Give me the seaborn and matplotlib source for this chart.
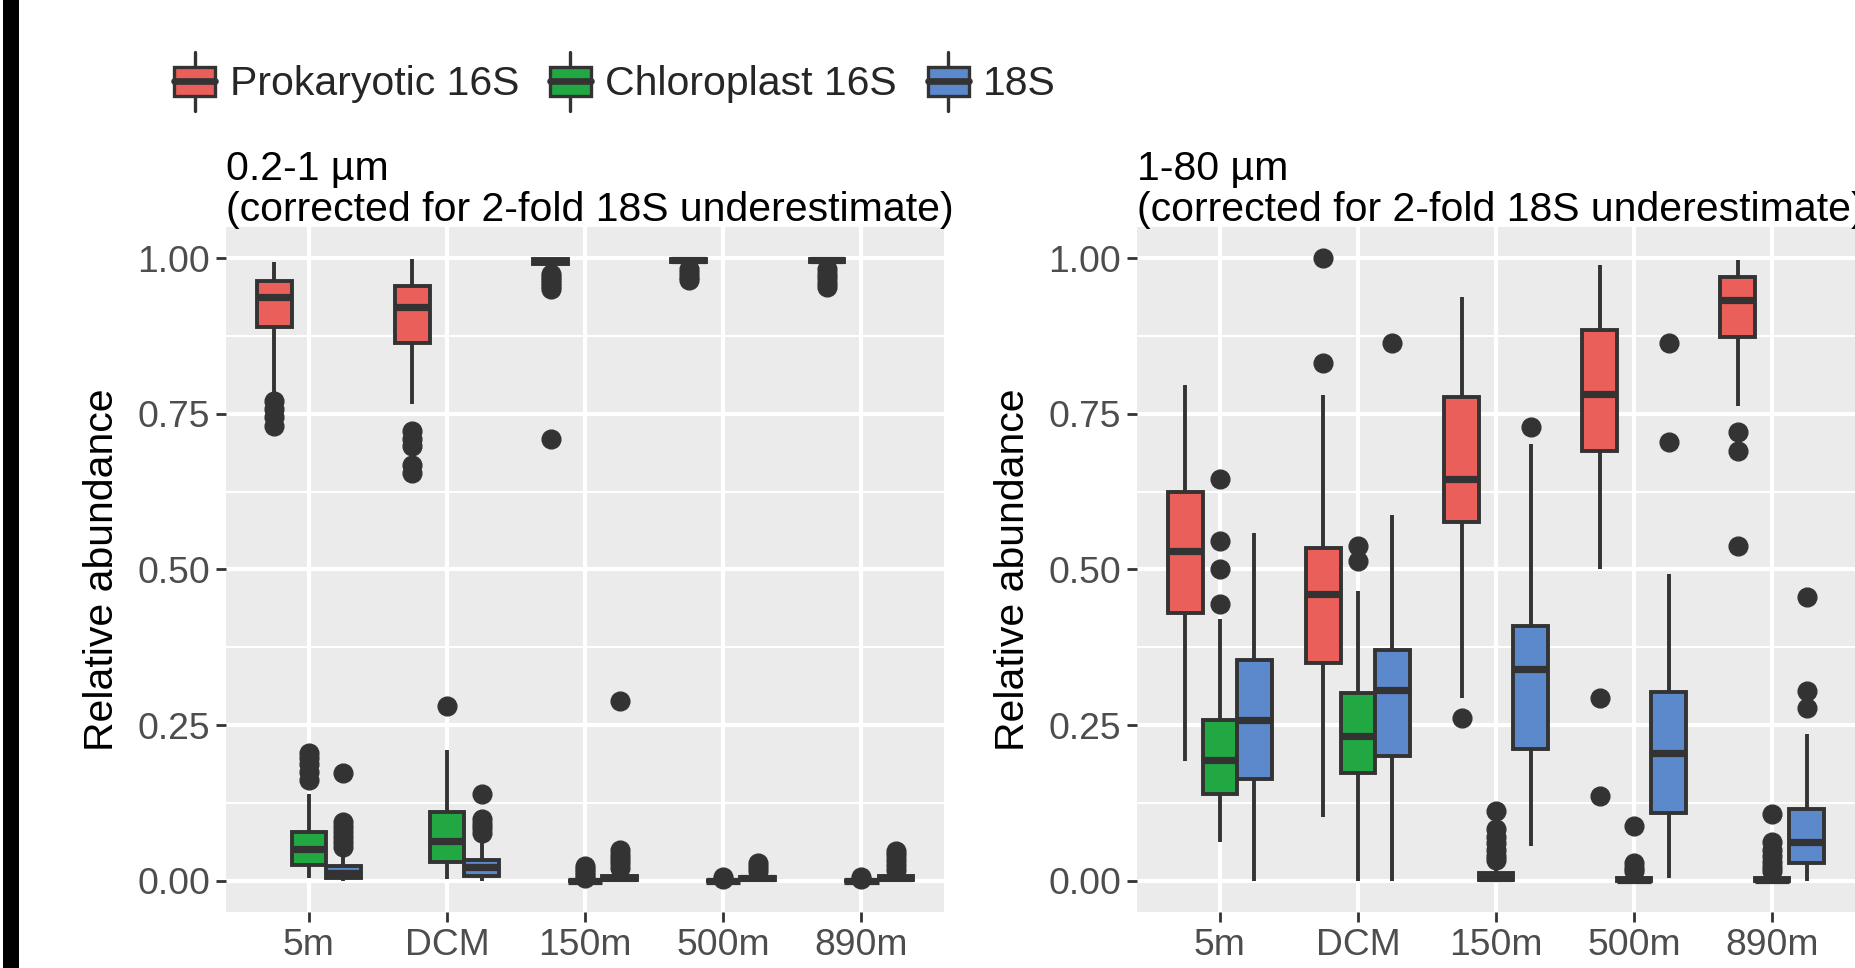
import matplotlib
matplotlib.use("Agg")
import pandas as pd
import matplotlib.pyplot as plt
import seaborn as sns
from matplotlib.legend_handler import HandlerBase
from matplotlib.lines import Line2D
from matplotlib.patches import Patch, Rectangle
from matplotlib.ticker import MultipleLocator

DEPTHS = ["5m", "DCM", "150m", "500m", "890m"]
MARKERS = ["Prokaryotic 16S", "Chloroplast 16S", "18S"]
COLORS = ["#EB5F5B", "#22A843", "#5C88CC"]

# box summaries, one tuple per depth:
# (lower whisker, q1, median, q3, upper whisker)
# 0.2-1 um fraction
SMALL_PROK = [(0.785, 0.889, 0.937, 0.964, 0.993), (0.766, 0.864, 0.921, 0.956, 0.998),
              (0.985, 0.990, 0.995, 0.998, 1.000), (0.988, 0.993, 0.997, 0.999, 1.000),
              (0.988, 0.993, 0.997, 0.999, 1.000)]
SMALL_PROK_OUT = [[0.770, 0.757, 0.745, 0.730], [0.722, 0.710, 0.698, 0.668, 0.655],
                  [0.975, 0.970, 0.965, 0.960, 0.955, 0.950, 0.710],
                  [0.982, 0.976, 0.970, 0.965], [0.982, 0.975, 0.968, 0.960, 0.953]]

SMALL_CHLORO = [(0.004, 0.026, 0.051, 0.078, 0.140), (0.003, 0.030, 0.064, 0.110, 0.210),
                (0.0, 0.0, 0.0, 0.0, 0.0), (0.0, 0.0, 0.0, 0.0, 0.0),
                (0.0, 0.0, 0.0, 0.0, 0.0)]
SMALL_CHLORO_OUT = [[0.162, 0.175, 0.188, 0.198, 0.206], [0.281],
                    [0.004, 0.009, 0.014, 0.019, 0.023], [0.003, 0.006], [0.003, 0.006]]

SMALL_18S = [(0.0, 0.005, 0.012, 0.024, 0.050), (0.0, 0.007, 0.022, 0.033, 0.065),
             (0.0, 0.002, 0.004, 0.007, 0.012), (0.0, 0.002, 0.004, 0.006, 0.010),
             (0.0, 0.002, 0.004, 0.007, 0.012)]
SMALL_18S_OUT = [[0.055, 0.062, 0.070, 0.078, 0.087, 0.095, 0.173],
                 [0.077, 0.085, 0.092, 0.100, 0.140],
                 [0.020, 0.028, 0.035, 0.042, 0.050, 0.289],
                 [0.016, 0.022, 0.028], [0.018, 0.026, 0.034, 0.042, 0.048]]

# 1-80 um fraction
LARGE_PROK = [(0.193, 0.430, 0.530, 0.624, 0.796), (0.102, 0.350, 0.460, 0.535, 0.780),
              (0.294, 0.576, 0.645, 0.777, 0.938), (0.500, 0.690, 0.781, 0.884, 0.989),
              (0.763, 0.874, 0.933, 0.970, 0.997)]
LARGE_PROK_OUT = [[], [0.831, 1.000], [0.262], [0.294, 0.136], [0.720, 0.691, 0.538]]

LARGE_CHLORO = [(0.062, 0.140, 0.194, 0.258, 0.420), (0.0, 0.173, 0.232, 0.301, 0.465),
                (0.0, 0.001, 0.004, 0.012, 0.025), (0.0, 0.0, 0.002, 0.005, 0.010),
                (0.0, 0.0, 0.001, 0.004, 0.008)]
LARGE_CHLORO_OUT = [[0.445, 0.500, 0.545, 0.645], [0.513, 0.538],
                    [0.033, 0.040, 0.050, 0.060, 0.070, 0.083, 0.112],
                    [0.015, 0.020, 0.028, 0.088],
                    [0.015, 0.022, 0.030, 0.040, 0.050, 0.062, 0.107]]

LARGE_18S = [(0.0, 0.164, 0.259, 0.355, 0.559), (0.0, 0.200, 0.306, 0.371, 0.587),
             (0.056, 0.211, 0.340, 0.409, 0.702), (0.005, 0.109, 0.205, 0.304, 0.492),
             (0.0, 0.029, 0.062, 0.115, 0.235)]
LARGE_18S_OUT = [[], [0.863], [0.729], [0.704, 0.863], [0.278, 0.305, 0.455]]

TITLES = ["0.2-1 \u00b5m\n(corrected for 2-fold 18S underestimate)",
          "1-80 \u00b5m\n(corrected for 2-fold 18S underestimate)"]

DARK = "#333333"


def expand(stats, outliers, reps=40):
    # sample whose quartiles / whisker ends match the summary
    lo, q1, med, q3, hi = stats
    return list(outliers) + [lo] + [q1] * reps + [med] * reps + [q3] * reps + [hi]


def build_frame(groups):
    rows = []
    for marker, (stats, outs) in zip(MARKERS, groups):
        for depth, st, ou in zip(DEPTHS, stats, outs):
            for v in expand(st, ou):
                rows.append((depth, marker, v))
    return pd.DataFrame(rows, columns=["depth", "marker", "value"])


class BoxKey(HandlerBase):
    def create_artists(self, legend, orig_handle, xdescent, ydescent,
                       width, height, fontsize, trans):
        x0, y0 = -xdescent, -ydescent
        cx, cy = x0 + width / 2, y0 + height / 2
        bh = height * 0.8
        whisk = Line2D([cx, cx], [cy - height * 0.8, cy + height * 0.8],
                       color=DARK, lw=2.4, transform=trans)
        box = Rectangle((x0, cy - bh / 2), width, bh, facecolor=orig_handle.get_facecolor(),
                        edgecolor=DARK, lw=2.4, transform=trans)
        med = Line2D([x0, x0 + width], [cy, cy], color=DARK, lw=4.8, transform=trans)
        return [whisk, box, med]


def draw_panel(ax, df, title):
    sns.boxplot(data=df, x="depth", y="value", hue="marker", order=DEPTHS,
                hue_order=MARKERS, palette=COLORS, saturation=1, width=0.75, gap=0,
                linewidth=2.8, linecolor=DARK, showcaps=False, legend=False,
                flierprops=dict(marker="o", markersize=13.5, markerfacecolor=DARK,
                                markeredgecolor=DARK),
                medianprops=dict(linewidth=5.2, color=DARK), ax=ax)
    ax.set_xlim(-0.6, 4.6)
    ax.set_ylim(-0.05, 1.05)
    ax.set_yticks([0, 0.25, 0.5, 0.75, 1.0])
    ax.set_yticklabels(["0.00", "0.25", "0.50", "0.75", "1.00"])
    ax.yaxis.set_minor_locator(MultipleLocator(0.125))
    ax.grid(which="major", color="white", linewidth=3.0)
    ax.grid(which="minor", axis="y", color="white", linewidth=1.5)
    ax.tick_params(which="major", left=True, bottom=True, length=7.5, width=2.0,
                   color=DARK, labelsize=26.8, labelcolor="#4D4D4D", pad=4)
    ax.tick_params(which="minor", length=0)
    ax.set_xlabel("")
    ax.set_ylabel("Relative abundance", fontsize=29.5, color="black")
    ax.yaxis.set_label_coords(-0.146, 0.5)
    ax.set_title(title, loc="left", fontsize=29.5, color="black", pad=4, linespacing=1.1)
    for s in ax.spines.values():
        s.set_visible(False)


def main():
    sns.set_theme(style="darkgrid", rc={"axes.facecolor": "#EBEBEB", "grid.color": "white"})
    plt.rcParams["font.family"] = ["Liberation Sans", "DejaVu Sans"]

    fig = plt.figure(figsize=(18.56, 9.68), dpi=100)
    fig.patch.set_facecolor("white")

    ax_small = fig.add_axes([0.1218, 0.0579, 0.3869, 0.7076])
    ax_large = fig.add_axes([0.6126, 0.0579, 0.3869, 0.7076])

    small = build_frame([(SMALL_PROK, SMALL_PROK_OUT), (SMALL_CHLORO, SMALL_CHLORO_OUT),
                         (SMALL_18S, SMALL_18S_OUT)])
    large = build_frame([(LARGE_PROK, LARGE_PROK_OUT), (LARGE_CHLORO, LARGE_CHLORO_OUT),
                         (LARGE_18S, LARGE_18S_OUT)])

    draw_panel(ax_small, small, TITLES[0])
    draw_panel(ax_large, large, TITLES[1])

    handles = [Patch(facecolor=c, label=m) for c, m in zip(COLORS, MARKERS)]
    fig.legend(handles=handles, handler_map={Patch: BoxKey()}, loc="center left",
               bbox_to_anchor=(0.094, 0.914), ncol=3, frameon=False, fontsize=29.5,
               handlelength=1.0, handleheight=1.0, handletextpad=0.35,
               columnspacing=0.75, borderpad=0, borderaxespad=0)

    # black frame edge on the left side of the crop
    fig.add_artist(Rectangle((0.0015, 0), 0.0085, 1, transform=fig.transFigure,
                             facecolor="black", edgecolor="none"))

    fig.savefig("out.png", dpi=100)


if __name__ == "__main__":
    main()
